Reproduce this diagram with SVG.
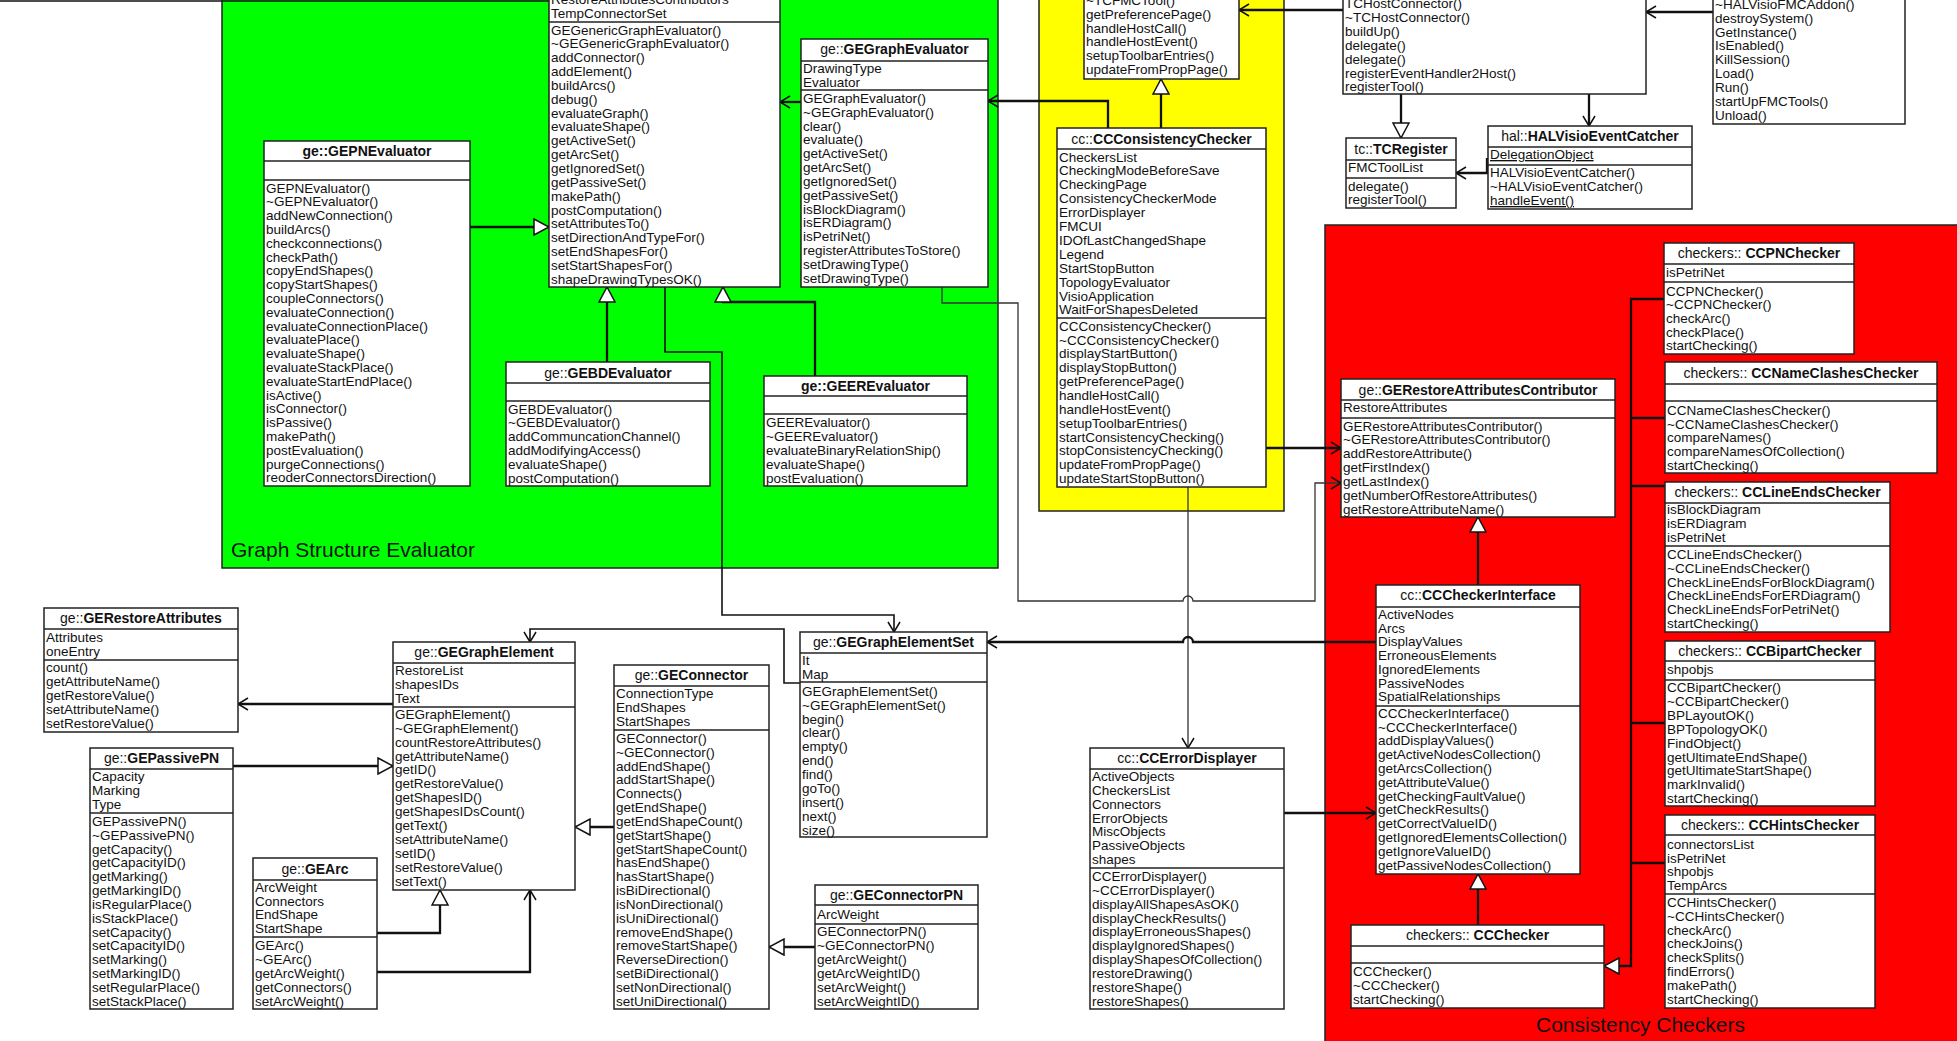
<svg xmlns="http://www.w3.org/2000/svg" width="1957" height="1041" viewBox="0 0 1957 1041">
<style>
.bx{fill:#fff;stroke:#222;stroke-width:1.5}
.sp{stroke:#222;stroke-width:1.5}
text{font-family:"Liberation Sans",Arial,sans-serif;fill:#111}
.t{font-size:13.5px}
.h{font-size:14px;text-anchor:middle}
.b{font-weight:bold}
.c{fill:none;stroke:#111;stroke-width:1.6}
.k{stroke-width:2.3}
.g{stroke:#333;stroke-width:1.3}
.rg{stroke:#222;stroke-width:1.5}
.lbl{font-size:21px}
.u{text-decoration:underline}
</style>
<defs>
<marker id="open" viewBox="0 0 12 14" refX="11" refY="7" markerWidth="12" markerHeight="14" orient="auto" markerUnits="userSpaceOnUse"><path d="M1,1 L11,7 L1,13" fill="none" stroke="#111" stroke-width="1.5"/></marker>
<marker id="tri" viewBox="0 0 17 18" refX="16" refY="9" markerWidth="17" markerHeight="18" orient="auto" markerUnits="userSpaceOnUse"><path d="M1,1 L16,9 L1,17 Z" fill="#fff" stroke="#111" stroke-width="1.5"/></marker>
</defs>
<rect x="0" y="0" width="1957" height="1041" fill="#fff"/>

<g id="regions">
<rect class="rg" x="222" y="-3" width="776" height="571" fill="#00ff00"/>
<rect class="rg" x="1039" y="-3" width="245" height="514" fill="#ffff00"/>
<rect class="rg" x="1325" y="225" width="634" height="820" fill="#ff0000"/>
<text class="lbl" x="231" y="557">Graph Structure Evaluator</text>
<text class="lbl" x="1536" y="1032">Consistency Checkers</text>
</g>

<g id="connectors">
<path class="c" d="M0,1 H549"/>
<path class="c k" d="M470,227 H549" marker-end="url(#tri)"/>
<path class="c k" d="M801,102 H780" marker-end="url(#open)"/>
<path class="c k" d="M607,362 V287" marker-end="url(#tri)"/>
<path class="c k" d="M815,376 V302 H723 V287" marker-end="url(#tri)"/>
<path class="c" d="M665,287 V352 H722 V615 H894 V632" marker-end="url(#open)"/>
<path class="c" d="M800,683 H784 V629 H530 V642" marker-end="url(#open)"/>
<path class="c k" d="M393,704 H238" marker-end="url(#open)"/>
<path class="c k" d="M233,766 H393" marker-end="url(#tri)"/>
<path class="c k" d="M377,933 H440 V890" marker-end="url(#tri)"/>
<path class="c k" d="M377,972 H530 V890" marker-end="url(#open)"/>
<path class="c k" d="M614,827 H575" marker-end="url(#tri)"/>
<path class="c k" d="M815,947 H769" marker-end="url(#tri)"/>
<path class="c g" d="M942,287 V303 H1018 V601 H1183 a5,5 0 0 1 10,0 H1315 V483 H1341" marker-end="url(#open)"/>
<path class="c k" d="M1108,128 V101 H988" marker-end="url(#open)"/>
<path class="c k" d="M1161,128 V79" marker-end="url(#tri)"/>
<path class="c k" d="M1266,448 H1341" marker-end="url(#open)"/>
<path class="c g" d="M1188,487 V748" marker-end="url(#open)"/>
<path class="c k" d="M1376,642 H1193 a5,5 0 0 0 -10,0 H987" marker-end="url(#open)"/>
<path class="c k" d="M1284,813 H1376" marker-end="url(#open)"/>
<path class="c k" d="M1343,10 H1239" marker-end="url(#open)"/>
<path class="c k" d="M1401,94 V138" marker-end="url(#tri)"/>
<path class="c k" d="M1589,94 V126" marker-end="url(#open)"/>
<path class="c k" d="M1487,158 V173 H1456" marker-end="url(#open)"/>
<path class="c k" d="M1713,12 H1646" marker-end="url(#open)"/>
<path class="c k" d="M1665,299 H1631 V966 H1604" marker-end="url(#tri)"/>
<path class="c k" d="M1665,418 H1631 M1665,486 H1631 M1665,723 H1631 M1665,863 H1631"/>
<path class="c k" d="M1478,925 V874" marker-end="url(#tri)"/>
<path class="c k" d="M1478,585 V517" marker-end="url(#tri)"/>
</g>

<g id="GEGenericGraphEvaluator">
<rect class="bx" x="549" y="-40" width="231" height="327"/>
<line class="sp" x1="549" y1="22" x2="780" y2="22"/>
<text class="t" x="551" y="4.3">RestoreAttributesContributors<tspan x="551" dy="13.9">TempConnectorSet</tspan></text>
<text class="t" x="551" y="34.5">GEGenericGraphEvaluator()<tspan x="551" dy="13.85">~GEGenericGraphEvaluator()</tspan><tspan x="551" dy="13.85">addConnector()</tspan><tspan x="551" dy="13.85">addElement()</tspan><tspan x="551" dy="13.85">buildArcs()</tspan><tspan x="551" dy="13.85">debug()</tspan><tspan x="551" dy="13.85">evaluateGraph()</tspan><tspan x="551" dy="13.85">evaluateShape()</tspan><tspan x="551" dy="13.85">getActiveSet()</tspan><tspan x="551" dy="13.85">getArcSet()</tspan><tspan x="551" dy="13.85">getIgnoredSet()</tspan><tspan x="551" dy="13.85">getPassiveSet()</tspan><tspan x="551" dy="13.85">makePath()</tspan><tspan x="551" dy="13.85">postComputation()</tspan><tspan x="551" dy="13.85">setAttributesTo()</tspan><tspan x="551" dy="13.85">setDirectionAndTypeFor()</tspan><tspan x="551" dy="13.85">setEndShapesFor()</tspan><tspan x="551" dy="13.85">setStartShapesFor()</tspan><tspan x="551" dy="13.85">shapeDrawingTypesOK()</tspan></text>
</g>

<g id="GEGraphEvaluator">
<rect class="bx" x="801" y="39" width="187" height="248"/>
<line class="sp" x1="801" y1="61" x2="988" y2="61"/>
<line class="sp" x1="801" y1="90" x2="988" y2="90"/>
<text class="h" x="894.5" y="54">ge::<tspan class="b">GEGraphEvaluator</tspan></text>
<text class="t" x="803" y="73.3">DrawingType<tspan x="803" dy="13.9">Evaluator</tspan></text>
<text class="t" x="803" y="102.8">GEGraphEvaluator()<tspan x="803" dy="13.85">~GEGraphEvaluator()</tspan><tspan x="803" dy="13.85">clear()</tspan><tspan x="803" dy="13.85">evaluate()</tspan><tspan x="803" dy="13.85">getActiveSet()</tspan><tspan x="803" dy="13.85">getArcSet()</tspan><tspan x="803" dy="13.85">getIgnoredSet()</tspan><tspan x="803" dy="13.85">getPassiveSet()</tspan><tspan x="803" dy="13.85">isBlockDiagram()</tspan><tspan x="803" dy="13.85">isERDiagram()</tspan><tspan x="803" dy="13.85">isPetriNet()</tspan><tspan x="803" dy="13.85">registerAttributesToStore()</tspan><tspan x="803" dy="13.85">setDrawingType()</tspan><tspan x="803" dy="13.85">setDrawingType()</tspan></text>
</g>

<g id="GEPNEvaluator">
<rect class="bx" x="264" y="141" width="206" height="345"/>
<line class="sp" x1="264" y1="161" x2="470" y2="161"/>
<line class="sp" x1="264" y1="180" x2="470" y2="180"/>
<text class="h b" x="367" y="156">ge::GEPNEvaluator</text>
<text class="t" x="266" y="192.5">GEPNEvaluator()<tspan x="266" dy="13.8">~GEPNEvaluator()</tspan><tspan x="266" dy="13.8">addNewConnection()</tspan><tspan x="266" dy="13.8">buildArcs()</tspan><tspan x="266" dy="13.8">checkconnections()</tspan><tspan x="266" dy="13.8">checkPath()</tspan><tspan x="266" dy="13.8">copyEndShapes()</tspan><tspan x="266" dy="13.8">copyStartShapes()</tspan><tspan x="266" dy="13.8">coupleConnectors()</tspan><tspan x="266" dy="13.8">evaluateConnection()</tspan><tspan x="266" dy="13.8">evaluateConnectionPlace()</tspan><tspan x="266" dy="13.8">evaluatePlace()</tspan><tspan x="266" dy="13.8">evaluateShape()</tspan><tspan x="266" dy="13.8">evaluateStackPlace()</tspan><tspan x="266" dy="13.8">evaluateStartEndPlace()</tspan><tspan x="266" dy="13.8">isActive()</tspan><tspan x="266" dy="13.8">isConnector()</tspan><tspan x="266" dy="13.8">isPassive()</tspan><tspan x="266" dy="13.8">makePath()</tspan><tspan x="266" dy="13.8">postEvaluation()</tspan><tspan x="266" dy="13.8">purgeConnections()</tspan><tspan x="266" dy="13.8">reoderConnectorsDirection()</tspan></text>
</g>

<g id="GEBDEvaluator">
<rect class="bx" x="506" y="362" width="204" height="124"/>
<line class="sp" x1="506" y1="383" x2="710" y2="383"/>
<line class="sp" x1="506" y1="401" x2="710" y2="401"/>
<text class="h" x="608" y="377.5">ge::<tspan class="b">GEBDEvaluator</tspan></text>
<text class="t" x="508" y="413.5">GEBDEvaluator()<tspan x="508" dy="13.85">~GEBDEvaluator()</tspan><tspan x="508" dy="13.85">addCommuncationChannel()</tspan><tspan x="508" dy="13.85">addModifyingAccess()</tspan><tspan x="508" dy="13.85">evaluateShape()</tspan><tspan x="508" dy="13.85">postComputation()</tspan></text>
</g>

<g id="GEEREvaluator">
<rect class="bx" x="764" y="376" width="203" height="110"/>
<line class="sp" x1="764" y1="396" x2="967" y2="396"/>
<line class="sp" x1="764" y1="414" x2="967" y2="414"/>
<text class="h b" x="865.5" y="391">ge::GEEREvaluator</text>
<text class="t" x="766" y="427">GEEREvaluator()<tspan x="766" dy="13.9">~GEEREvaluator()</tspan><tspan x="766" dy="13.9">evaluateBinaryRelationShip()</tspan><tspan x="766" dy="13.9">evaluateShape()</tspan><tspan x="766" dy="13.9">postEvaluation()</tspan></text>
</g>

<g id="TCFMCTool">
<rect class="bx" x="1084" y="-40" width="155" height="119"/>
<text class="t" x="1086" y="4.8">~TCFMCTool()<tspan x="1086" dy="13.9">getPreferencePage()</tspan><tspan x="1086" dy="13.9">handleHostCall()</tspan><tspan x="1086" dy="13.9">handleHostEvent()</tspan><tspan x="1086" dy="13.9">setupToolbarEntries()</tspan><tspan x="1086" dy="13.9">updateFromPropPage()</tspan></text>
</g>

<g id="CCConsistencyChecker">
<rect class="bx" x="1057" y="128" width="209" height="359"/>
<line class="sp" x1="1057" y1="149" x2="1266" y2="149"/>
<line class="sp" x1="1057" y1="318" x2="1266" y2="318"/>
<text class="h" x="1161.5" y="143.5">cc::<tspan class="b">CCConsistencyChecker</tspan></text>
<text class="t" x="1059" y="161.5">CheckersList<tspan x="1059" dy="13.9">CheckingModeBeforeSave</tspan><tspan x="1059" dy="13.9">CheckingPage</tspan><tspan x="1059" dy="13.9">ConsistencyCheckerMode</tspan><tspan x="1059" dy="13.9">ErrorDisplayer</tspan><tspan x="1059" dy="13.9">FMCUI</tspan><tspan x="1059" dy="13.9">IDOfLastChangedShape</tspan><tspan x="1059" dy="13.9">Legend</tspan><tspan x="1059" dy="13.9">StartStopButton</tspan><tspan x="1059" dy="13.9">TopologyEvaluator</tspan><tspan x="1059" dy="13.9">VisioApplication</tspan><tspan x="1059" dy="13.9">WaitForShapesDeleted</tspan></text>
<text class="t" x="1059" y="330.7">CCConsistencyChecker()<tspan x="1059" dy="13.85">~CCConsistencyChecker()</tspan><tspan x="1059" dy="13.85">displayStartButton()</tspan><tspan x="1059" dy="13.85">displayStopButton()</tspan><tspan x="1059" dy="13.85">getPreferencePage()</tspan><tspan x="1059" dy="13.85">handleHostCall()</tspan><tspan x="1059" dy="13.85">handleHostEvent()</tspan><tspan x="1059" dy="13.85">setupToolbarEntries()</tspan><tspan x="1059" dy="13.85">startConsistencyChecking()</tspan><tspan x="1059" dy="13.85">stopConsistencyChecking()</tspan><tspan x="1059" dy="13.85">updateFromPropPage()</tspan><tspan x="1059" dy="13.85">updateStartStopButton()</tspan></text>
</g>

<g id="TCHostConnector">
<rect class="bx" x="1343" y="-40" width="303" height="134"/>
<text class="t" x="1345" y="8">TCHostConnector()<tspan x="1345" dy="13.9">~TCHostConnector()</tspan><tspan x="1345" dy="13.9">buildUp()</tspan><tspan x="1345" dy="13.9">delegate()</tspan><tspan x="1345" dy="13.9">delegate()</tspan><tspan x="1345" dy="13.9">registerEventHandler2Host()</tspan><tspan x="1345" dy="13.9">registerTool()</tspan></text>
</g>

<g id="HALVisioFMCAddon">
<rect class="bx" x="1713" y="-40" width="192" height="164"/>
<text class="t" x="1715" y="8.8">~HALVisioFMCAddon()<tspan x="1715" dy="13.9">destroySystem()</tspan><tspan x="1715" dy="13.9">GetInstance()</tspan><tspan x="1715" dy="13.9">IsEnabled()</tspan><tspan x="1715" dy="13.9">KillSession()</tspan><tspan x="1715" dy="13.9">Load()</tspan><tspan x="1715" dy="13.9">Run()</tspan><tspan x="1715" dy="13.9">startUpFMCTools()</tspan><tspan x="1715" dy="13.9">Unload()</tspan></text>
</g>

<g id="TCRegister">
<rect class="bx" x="1346" y="138" width="110" height="70"/>
<line class="sp" x1="1346" y1="160" x2="1456" y2="160"/>
<line class="sp" x1="1346" y1="178" x2="1456" y2="178"/>
<text class="h" x="1401" y="153.5">tc::<tspan class="b">TCRegister</tspan></text>
<text class="t" x="1348" y="171.8">FMCToolList</text>
<text class="t" x="1348" y="190.5">delegate()<tspan x="1348" dy="13.5">registerTool()</tspan></text>
</g>

<g id="HALVisioEventCatcher">
<rect class="bx" x="1488" y="126" width="204" height="83"/>
<line class="sp" x1="1488" y1="147" x2="1692" y2="147"/>
<line class="sp" x1="1488" y1="165" x2="1692" y2="165"/>
<text class="h" x="1590" y="140.5">hal::<tspan class="b">HALVisioEventCatcher</tspan></text>
<text class="t u" x="1490" y="159">DelegationObject</text>
<text class="t" x="1490" y="177">HALVisioEventCatcher()<tspan x="1490" dy="14">~HALVisioEventCatcher()</tspan></text>
<text class="t u" x="1490" y="205">handleEvent()</text>
</g>

<g id="GERestoreAttributesContributor">
<rect class="bx" x="1341" y="379" width="274" height="138"/>
<line class="sp" x1="1341" y1="400" x2="1615" y2="400"/>
<line class="sp" x1="1341" y1="418" x2="1615" y2="418"/>
<text class="h" x="1478" y="394.5">ge::<tspan class="b">GERestoreAttributesContributor</tspan></text>
<text class="t" x="1343" y="412.3">RestoreAttributes</text>
<text class="t" x="1343" y="430.5">GERestoreAttributesContributor()<tspan x="1343" dy="13.9">~GERestoreAttributesContributor()</tspan><tspan x="1343" dy="13.9">addRestoreAttribute()</tspan><tspan x="1343" dy="13.9">getFirstIndex()</tspan><tspan x="1343" dy="13.9">getLastIndex()</tspan><tspan x="1343" dy="13.9">getNumberOfRestoreAttributes()</tspan><tspan x="1343" dy="13.9">getRestoreAttributeName()</tspan></text>
</g>

<g id="CCCheckerInterface">
<rect class="bx" x="1376" y="585" width="204" height="289"/>
<line class="sp" x1="1376" y1="607" x2="1580" y2="607"/>
<line class="sp" x1="1376" y1="706" x2="1580" y2="706"/>
<text class="h" x="1478" y="600">cc::<tspan class="b">CCCheckerInterface</tspan></text>
<text class="t" x="1378" y="619">ActiveNodes<tspan x="1378" dy="13.7">Arcs</tspan><tspan x="1378" dy="13.7">DisplayValues</tspan><tspan x="1378" dy="13.7">ErroneousElements</tspan><tspan x="1378" dy="13.7">IgnoredElements</tspan><tspan x="1378" dy="13.7">PassiveNodes</tspan><tspan x="1378" dy="13.7">SpatialRelationships</tspan></text>
<text class="t" x="1378" y="717.8">CCCheckerInterface()<tspan x="1378" dy="13.8">~CCCheckerInterface()</tspan><tspan x="1378" dy="13.8">addDisplayValues()</tspan><tspan x="1378" dy="13.8">getActiveNodesCollection()</tspan><tspan x="1378" dy="13.8">getArcsCollection()</tspan><tspan x="1378" dy="13.8">getAttributeValue()</tspan><tspan x="1378" dy="13.8">getCheckingFaultValue()</tspan><tspan x="1378" dy="13.8">getCheckResults()</tspan><tspan x="1378" dy="13.8">getCorrectValueID()</tspan><tspan x="1378" dy="13.8">getIgnoredElementsCollection()</tspan><tspan x="1378" dy="13.8">getIgnoreValueID()</tspan><tspan x="1378" dy="13.8">getPassiveNodesCollection()</tspan></text>
</g>

<g id="CCChecker">
<rect class="bx" x="1351" y="925" width="253" height="83"/>
<line class="sp" x1="1351" y1="946" x2="1604" y2="946"/>
<line class="sp" x1="1351" y1="963" x2="1604" y2="963"/>
<text class="h" x="1477.5" y="940">checkers:: <tspan class="b">CCChecker</tspan></text>
<text class="t" x="1353" y="975.7">CCChecker()<tspan x="1353" dy="14">~CCChecker()</tspan><tspan x="1353" dy="14">startChecking()</tspan></text>
</g>

<g id="CCErrorDisplayer">
<rect class="bx" x="1090" y="748" width="194" height="261"/>
<line class="sp" x1="1090" y1="769" x2="1284" y2="769"/>
<line class="sp" x1="1090" y1="868" x2="1284" y2="868"/>
<text class="h" x="1187" y="763">cc::<tspan class="b">CCErrorDisplayer</tspan></text>
<text class="t" x="1092" y="780.8">ActiveObjects<tspan x="1092" dy="13.9">CheckersList</tspan><tspan x="1092" dy="13.9">Connectors</tspan><tspan x="1092" dy="13.9">ErrorObjects</tspan><tspan x="1092" dy="13.9">MiscObjects</tspan><tspan x="1092" dy="13.9">PassiveObjects</tspan><tspan x="1092" dy="13.9">shapes</tspan></text>
<text class="t" x="1092" y="880.8">CCErrorDisplayer()<tspan x="1092" dy="13.9">~CCErrorDisplayer()</tspan><tspan x="1092" dy="13.9">displayAllShapesAsOK()</tspan><tspan x="1092" dy="13.9">displayCheckResults()</tspan><tspan x="1092" dy="13.9">displayErroneousShapes()</tspan><tspan x="1092" dy="13.9">displayIgnoredShapes()</tspan><tspan x="1092" dy="13.9">displayShapesOfCollection()</tspan><tspan x="1092" dy="13.9">restoreDrawing()</tspan><tspan x="1092" dy="13.9">restoreShape()</tspan><tspan x="1092" dy="13.9">restoreShapes()</tspan></text>
</g>

<g id="CCPNChecker">
<rect class="bx" x="1664" y="243" width="190" height="111"/>
<line class="sp" x1="1664" y1="264" x2="1854" y2="264"/>
<line class="sp" x1="1664" y1="282" x2="1854" y2="282"/>
<text class="h" x="1759" y="258">checkers:: <tspan class="b">CCPNChecker</tspan></text>
<text class="t" x="1666" y="277">isPetriNet</text>
<text class="t" x="1666" y="295.6">CCPNChecker()<tspan x="1666" dy="13.7">~CCPNChecker()</tspan><tspan x="1666" dy="13.7">checkArc()</tspan><tspan x="1666" dy="13.7">checkPlace()</tspan><tspan x="1666" dy="13.7">startChecking()</tspan></text>
</g>

<g id="CCNameClashesChecker">
<rect class="bx" x="1665" y="362" width="272" height="111"/>
<line class="sp" x1="1665" y1="384" x2="1937" y2="384"/>
<line class="sp" x1="1665" y1="401" x2="1937" y2="401"/>
<text class="h" x="1801" y="377.5">checkers:: <tspan class="b">CCNameClashesChecker</tspan></text>
<text class="t" x="1667" y="414.7">CCNameClashesChecker()<tspan x="1667" dy="13.85">~CCNameClashesChecker()</tspan><tspan x="1667" dy="13.85">compareNames()</tspan><tspan x="1667" dy="13.85">compareNamesOfCollection()</tspan><tspan x="1667" dy="13.85">startChecking()</tspan></text>
</g>

<g id="CCLineEndsChecker">
<rect class="bx" x="1665" y="482" width="225" height="150"/>
<line class="sp" x1="1665" y1="503" x2="1890" y2="503"/>
<line class="sp" x1="1665" y1="546" x2="1890" y2="546"/>
<text class="h" x="1777.5" y="497">checkers:: <tspan class="b">CCLineEndsChecker</tspan></text>
<text class="t" x="1667" y="514">isBlockDiagram<tspan x="1667" dy="14">isERDiagram</tspan><tspan x="1667" dy="14">isPetriNet</tspan></text>
<text class="t" x="1667" y="558.8">CCLineEndsChecker()<tspan x="1667" dy="13.85">~CCLineEndsChecker()</tspan><tspan x="1667" dy="13.85">CheckLineEndsForBlockDiagram()</tspan><tspan x="1667" dy="13.85">CheckLineEndsForERDiagram()</tspan><tspan x="1667" dy="13.85">CheckLineEndsForPetriNet()</tspan><tspan x="1667" dy="13.85">startChecking()</tspan></text>
</g>

<g id="CCBipartChecker">
<rect class="bx" x="1665" y="641" width="210" height="165"/>
<line class="sp" x1="1665" y1="661" x2="1875" y2="661"/>
<line class="sp" x1="1665" y1="680" x2="1875" y2="680"/>
<text class="h" x="1770" y="655.5">checkers:: <tspan class="b">CCBipartChecker</tspan></text>
<text class="t" x="1667" y="674">shpobjs</text>
<text class="t" x="1667" y="692">CCBipartChecker()<tspan x="1667" dy="13.9">~CCBipartChecker()</tspan><tspan x="1667" dy="13.9">BPLayoutOK()</tspan><tspan x="1667" dy="13.9">BPTopologyOK()</tspan><tspan x="1667" dy="13.9">FindObject()</tspan><tspan x="1667" dy="13.9">getUltimateEndShape()</tspan><tspan x="1667" dy="13.9">getUltimateStartShape()</tspan><tspan x="1667" dy="13.9">markInvalid()</tspan><tspan x="1667" dy="13.9">startChecking()</tspan></text>
</g>

<g id="CCHintsChecker">
<rect class="bx" x="1665" y="815" width="210" height="193"/>
<line class="sp" x1="1665" y1="835" x2="1875" y2="835"/>
<line class="sp" x1="1665" y1="894" x2="1875" y2="894"/>
<text class="h" x="1770" y="830">checkers:: <tspan class="b">CCHintsChecker</tspan></text>
<text class="t" x="1667" y="848.8">connectorsList<tspan x="1667" dy="13.7">isPetriNet</tspan><tspan x="1667" dy="13.7">shpobjs</tspan><tspan x="1667" dy="13.7">TempArcs</tspan></text>
<text class="t" x="1667" y="906.8">CCHintsChecker()<tspan x="1667" dy="13.85">~CCHintsChecker()</tspan><tspan x="1667" dy="13.85">checkArc()</tspan><tspan x="1667" dy="13.85">checkJoins()</tspan><tspan x="1667" dy="13.85">checkSplits()</tspan><tspan x="1667" dy="13.85">findErrors()</tspan><tspan x="1667" dy="13.85">makePath()</tspan><tspan x="1667" dy="13.85">startChecking()</tspan></text>
</g>

<g id="GEGraphElementSet">
<rect class="bx" x="800" y="632" width="187" height="205"/>
<line class="sp" x1="800" y1="653" x2="987" y2="653"/>
<line class="sp" x1="800" y1="682" x2="987" y2="682"/>
<text class="h" x="893.5" y="647">ge::<tspan class="b">GEGraphElementSet</tspan></text>
<text class="t" x="802" y="664.8">It<tspan x="802" dy="14.2">Map</tspan></text>
<text class="t" x="802" y="695.8">GEGraphElementSet()<tspan x="802" dy="13.87">~GEGraphElementSet()</tspan><tspan x="802" dy="13.87">begin()</tspan><tspan x="802" dy="13.87">clear()</tspan><tspan x="802" dy="13.87">empty()</tspan><tspan x="802" dy="13.87">end()</tspan><tspan x="802" dy="13.87">find()</tspan><tspan x="802" dy="13.87">goTo()</tspan><tspan x="802" dy="13.87">insert()</tspan><tspan x="802" dy="13.87">next()</tspan><tspan x="802" dy="13.87">size()</tspan></text>
</g>

<g id="GEGraphElement">
<rect class="bx" x="393" y="642" width="182" height="248"/>
<line class="sp" x1="393" y1="663" x2="575" y2="663"/>
<line class="sp" x1="393" y1="707" x2="575" y2="707"/>
<text class="h" x="484" y="657">ge::<tspan class="b">GEGraphElement</tspan></text>
<text class="t" x="395" y="674.8">RestoreList<tspan x="395" dy="14.1">shapesIDs</tspan><tspan x="395" dy="14.1">Text</tspan></text>
<text class="t" x="395" y="718.8">GEGraphElement()<tspan x="395" dy="13.9">~GEGraphElement()</tspan><tspan x="395" dy="13.9">countRestoreAttributes()</tspan><tspan x="395" dy="13.9">getAttributeName()</tspan><tspan x="395" dy="13.9">getID()</tspan><tspan x="395" dy="13.9">getRestoreValue()</tspan><tspan x="395" dy="13.9">getShapesID()</tspan><tspan x="395" dy="13.9">getShapesIDsCount()</tspan><tspan x="395" dy="13.9">getText()</tspan><tspan x="395" dy="13.9">setAttributeName()</tspan><tspan x="395" dy="13.9">setID()</tspan><tspan x="395" dy="13.9">setRestoreValue()</tspan><tspan x="395" dy="13.9">setText()</tspan></text>
</g>

<g id="GERestoreAttributes">
<rect class="bx" x="44" y="608" width="194" height="124"/>
<line class="sp" x1="44" y1="629" x2="238" y2="629"/>
<line class="sp" x1="44" y1="660" x2="238" y2="660"/>
<text class="h" x="141" y="622.8">ge::<tspan class="b">GERestoreAttributes</tspan></text>
<text class="t" x="46" y="641.5">Attributes<tspan x="46" dy="14.2">oneEntry</tspan></text>
<text class="t" x="46" y="671.8">count()<tspan x="46" dy="14.05">getAttributeName()</tspan><tspan x="46" dy="14.05">getRestoreValue()</tspan><tspan x="46" dy="14.05">setAttributeName()</tspan><tspan x="46" dy="14.05">setRestoreValue()</tspan></text>
</g>

<g id="GEPassivePN">
<rect class="bx" x="90" y="748" width="143" height="261"/>
<line class="sp" x1="90" y1="769" x2="233" y2="769"/>
<line class="sp" x1="90" y1="813" x2="233" y2="813"/>
<text class="h" x="161.5" y="763">ge::<tspan class="b">GEPassivePN</tspan></text>
<text class="t" x="92" y="780.8">Capacity<tspan x="92" dy="14.1">Marking</tspan><tspan x="92" dy="14.1">Type</tspan></text>
<text class="t" x="92" y="825.8">GEPassivePN()<tspan x="92" dy="13.85">~GEPassivePN()</tspan><tspan x="92" dy="13.85">getCapacity()</tspan><tspan x="92" dy="13.85">getCapacityID()</tspan><tspan x="92" dy="13.85">getMarking()</tspan><tspan x="92" dy="13.85">getMarkingID()</tspan><tspan x="92" dy="13.85">isRegularPlace()</tspan><tspan x="92" dy="13.85">isStackPlace()</tspan><tspan x="92" dy="13.85">setCapacity()</tspan><tspan x="92" dy="13.85">setCapacityID()</tspan><tspan x="92" dy="13.85">setMarking()</tspan><tspan x="92" dy="13.85">setMarkingID()</tspan><tspan x="92" dy="13.85">setRegularPlace()</tspan><tspan x="92" dy="13.85">setStackPlace()</tspan></text>
</g>

<g id="GEArc">
<rect class="bx" x="253" y="858" width="124" height="151"/>
<line class="sp" x1="253" y1="880" x2="377" y2="880"/>
<line class="sp" x1="253" y1="937" x2="377" y2="937"/>
<text class="h" x="315" y="873.5">ge::<tspan class="b">GEArc</tspan></text>
<text class="t" x="255" y="892">ArcWeight<tspan x="255" dy="13.6">Connectors</tspan><tspan x="255" dy="13.6">EndShape</tspan><tspan x="255" dy="13.6">StartShape</tspan></text>
<text class="t" x="255" y="950">GEArc()<tspan x="255" dy="13.95">~GEArc()</tspan><tspan x="255" dy="13.95">getArcWeight()</tspan><tspan x="255" dy="13.95">getConnectors()</tspan><tspan x="255" dy="13.95">setArcWeight()</tspan></text>
</g>

<g id="GEConnector">
<rect class="bx" x="614" y="665" width="155" height="344"/>
<line class="sp" x1="614" y1="686" x2="769" y2="686"/>
<line class="sp" x1="614" y1="730" x2="769" y2="730"/>
<text class="h" x="691.5" y="679.5">ge::<tspan class="b">GEConnector</tspan></text>
<text class="t" x="616" y="697.5">ConnectionType<tspan x="616" dy="14.15">EndShapes</tspan><tspan x="616" dy="14.15">StartShapes</tspan></text>
<text class="t" x="616" y="743">GEConnector()<tspan x="616" dy="13.83">~GEConnector()</tspan><tspan x="616" dy="13.83">addEndShape()</tspan><tspan x="616" dy="13.83">addStartShape()</tspan><tspan x="616" dy="13.83">Connects()</tspan><tspan x="616" dy="13.83">getEndShape()</tspan><tspan x="616" dy="13.83">getEndShapeCount()</tspan><tspan x="616" dy="13.83">getStartShape()</tspan><tspan x="616" dy="13.83">getStartShapeCount()</tspan><tspan x="616" dy="13.83">hasEndShape()</tspan><tspan x="616" dy="13.83">hasStartShape()</tspan><tspan x="616" dy="13.83">isBiDirectional()</tspan><tspan x="616" dy="13.83">isNonDirectional()</tspan><tspan x="616" dy="13.83">isUniDirectional()</tspan><tspan x="616" dy="13.83">removeEndShape()</tspan><tspan x="616" dy="13.83">removeStartShape()</tspan><tspan x="616" dy="13.83">ReverseDirection()</tspan><tspan x="616" dy="13.83">setBiDirectional()</tspan><tspan x="616" dy="13.83">setNonDirectional()</tspan><tspan x="616" dy="13.83">setUniDirectional()</tspan></text>
</g>

<g id="GEConnectorPN">
<rect class="bx" x="815" y="885" width="163" height="124"/>
<line class="sp" x1="815" y1="905" x2="978" y2="905"/>
<line class="sp" x1="815" y1="924" x2="978" y2="924"/>
<text class="h" x="896.5" y="899.5">ge::<tspan class="b">GEConnectorPN</tspan></text>
<text class="t" x="817" y="918.8">ArcWeight</text>
<text class="t" x="817" y="935.5">GEConnectorPN()<tspan x="817" dy="14.06">~GEConnectorPN()</tspan><tspan x="817" dy="14.06">getArcWeight()</tspan><tspan x="817" dy="14.06">getArcWeightID()</tspan><tspan x="817" dy="14.06">setArcWeight()</tspan><tspan x="817" dy="14.06">setArcWeightID()</tspan></text>
</g>
</svg>
